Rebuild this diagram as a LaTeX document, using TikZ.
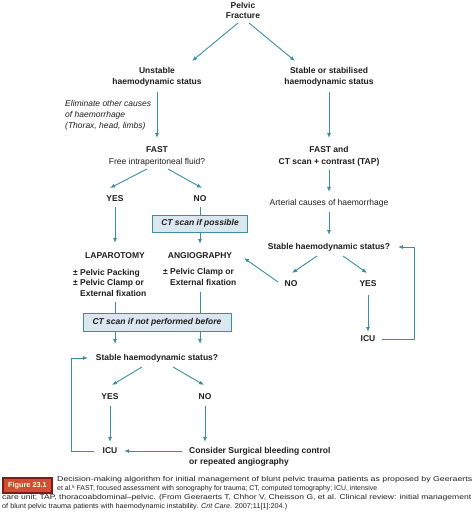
\documentclass[tikz,border=0pt]{standalone}
\usepackage{fontspec}
\usepackage{graphicx}
\setmainfont{Liberation Sans}
\newfontfamily\capfont{Liberation Sans}
\usetikzlibrary{calc,arrows.meta}
\definecolor{linec}{RGB}{60,142,158}
\definecolor{boxfill}{RGB}{218,231,238}
\definecolor{txt}{RGB}{30,30,32}
\definecolor{figfill}{RGB}{210,78,50}
\definecolor{figedge}{RGB}{130,25,25}
\newcommand{\fs}{\fontsize{8.5}{11}\selectfont}
\newcommand{\cfs}{\capfont\fontsize{7.0}{8.5}\selectfont}
\newcommand{\capw}[2]{\resizebox{#1}{\height}{#2}}
\tikzset{
  lbl/.style={font=\bfseries\fs, align=center, inner sep=0pt, text=txt},
  plain/.style={font=\fs, align=center, inner sep=0pt, text=txt},
  arr/.style={draw=linec, line width=0.9pt, -{Latex[length=5pt,width=4pt]}},
  ln/.style={draw=linec, line width=0.9pt},
  cbox/.style={draw=linec, fill=boxfill, line width=0.9pt, font=\bfseries\itshape\fs, text=txt, inner sep=0pt},
  capline/.style={anchor=west, inner sep=0pt, font=\cfs, text=txt}
}
\begin{document}
\begin{tikzpicture}[x=1pt,y=-1pt]
\useasboundingbox (0,0) rectangle (474,521);
% nodes
\node[lbl] (pf) at (243,10) {Pelvic\\[-1pt]Fracture};
\node[lbl] (uns) at (157,76.5) {Unstable\\haemodynamic status};
\node[lbl] (sta) at (329,76.5) {Stable or stabilised\\haemodynamic status};
\node[plain, font=\itshape\fs, align=left, anchor=west] (elim) at (65,115) {Eliminate other causes\\of haemorrhage\\(Thorax, head, limbs)};
\node[plain] (fast) at (157,156) {\textbf{FAST}\\[1pt]Free intraperitoneal fluid?};
\node[lbl] (fastct) at (329,156) {FAST and\\[1pt]CT scan + contrast (TAP)};
\node[lbl] (yes1) at (115,199) {YES};
\node[lbl] (no1) at (200,199) {NO};
\node[cbox, minimum width=95pt, minimum height=17pt] (box1) at (200,223.5) {CT scan if possible};
\node[plain] (arter) at (329,203) {Arterial causes of haemorrhage};
\node[lbl] (stab2) at (329,247) {Stable haemodynamic status?};
\node[lbl] (lap) at (115,256) {LAPAROTOMY};
\node[lbl] (ang) at (200,256) {ANGIOGRAPHY};
\node[lbl, align=left, anchor=west, font=\bfseries\fontsize{8.5}{10.5}\selectfont] (lapdet) at (73,282.5) {± Pelvic Packing\\± Pelvic Clamp or\\\hphantom{± }External fixation};
\node[lbl, align=left, anchor=west, font=\bfseries\fontsize{8.5}{10.5}\selectfont] (angdet) at (163,277) {± Pelvic Clamp or\\\hphantom{± }External fixation};
\node[lbl] (no2) at (291,284) {NO};
\node[lbl] (yes2) at (368,284) {YES};
\node[lbl] (icu2) at (368,339) {ICU};
\node[cbox, minimum width=148pt, minimum height=18pt] (box2) at (157,322) {CT scan if not performed before};
\node[lbl] (stab3) at (157,358) {Stable haemodynamic status?};
\node[lbl] (yes3) at (110,397) {YES};
\node[lbl] (no3) at (205,397) {NO};
\node[lbl] (icu3) at (110,451) {ICU};
\node[lbl, align=left, anchor=west] (cons) at (189,456.5) {Consider Surgical bleeding control\\or repeated angiography};
% connectors
\draw[arr] ($(pf)+(-5,13)$) -- ($(uns)+(35,-15.5)$);
\draw[arr] ($(pf)+(6,13)$) -- ($(sta)+(-34,-15.5)$);
\draw[arr] ($(uns)+(0,15.5)$) -- ($(fast)+(0,-18)$);
\draw[arr] ($(sta)+(0,15.5)$) -- ($(fastct)+(0,-18)$);
\draw[arr] ($(fast)+(-10,13)$) -- ($(yes1)+(-5,-11)$);
\draw[arr] ($(fast)+(11,13)$) -- ($(no1)+(2,-11)$);
\draw[arr] ($(yes1)+(0,8)$) -- ($(lap)+(0,-13)$);
\draw[ln] ($(no1)+(0,8)$) -- (box1.north);
\draw[arr] (box1.south) -- ($(ang)+(0,-12)$);
\draw[arr] ($(fastct)+(0,14)$) -- ($(arter)+(0,-11)$);
\draw[arr] ($(arter)+(0,9)$) -- ($(stab2)+(0,-12)$);
\draw[arr] ($(stab2)+(-12,9)$) -- ($(no2)+(1,-11)$);
\draw[arr] ($(stab2)+(14,9)$) -- ($(yes2)+(-1,-11)$);
\draw[arr] ($(no2)+(-13,-2)$) -- ($(ang)+(44,2)$);
\draw[arr] ($(yes2)+(0,11)$) -- ($(icu2)+(0,-7)$);
\draw[arr] ($(icu2)+(14,0)$) -- ++(32,0) |- ($(stab2)+(69,0)$);
\draw[ln] ($(lapdet.west)+(42,19.5)$) -- ($(box2.north)+(-42,0)$);
\draw[ln] ($(angdet.west)+(37,15)$) -- ($(box2.north)+(43,0)$);
\draw[arr] ($(box2.south)+(-42,0)$) -- ($(stab3)+(-42,-14)$);
\draw[arr] ($(box2.south)+(43,0)$) -- ($(stab3)+(43,-14)$);
\draw[arr] ($(stab3)+(-15,9)$) -- ($(yes3)+(2,-12)$);
\draw[arr] ($(stab3)+(16,9)$) -- ($(no3)+(-1,-12)$);
\draw[arr] ($(yes3)+(0,9)$) -- ($(icu3)+(0,-9)$);
\draw[arr] ($(no3)+(0,9)$) -- ($(cons.west)+(16,-14.5)$);
\draw[arr] ($(cons.west)+(-7,-5.5)$) -- ($(icu3)+(14,0)$);
\draw[arr] ($(icu3)+(-16,0)$) -- ++(-23,0) |- ($(stab3)+(-69,0)$);
% caption
\node[draw=figedge, line width=1.2pt, fill=figfill, minimum width=49pt, minimum height=15pt, inner sep=0pt, text=white!90!yellow, font=\capfont\bfseries\fontsize{7.3}{9}\selectfont] (figlab) at (27.5,485.5) {Figure 23.1};
\node[capline] (c1) at (57,479.5) {\capw{415pt}{Decision-making algorithm for initial management of blunt pelvic trauma patients as proposed by Geeraerts}};
\node[capline] (c2) at (57,488.5) {\capw{320pt}{et al.\raisebox{2.2pt}{\fontsize{4.5}{5}\selectfont 5} FAST, focused assessment with sonography for trauma; CT, computed tomography; ICU, intensive}};
\node[capline] (c3) at (2,497.5) {\capw{469pt}{care unit; TAP, thoracoabdominal–pelvic. (From Geeraerts T, Chhor V, Cheisson G, et al. Clinical review: initial management}};
\node[capline] (c4) at (2,506.5) {\capw{285pt}{of blunt pelvic trauma patients with haemodynamic instability. \textit{Crit Care}. 2007;11[1]:204.)}};
\end{tikzpicture}
\end{document}
